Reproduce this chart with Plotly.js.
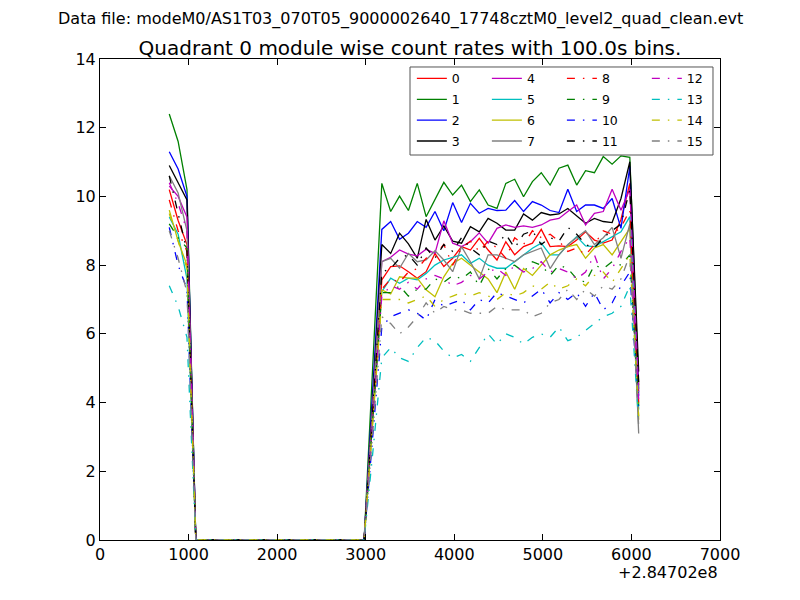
<!DOCTYPE html>
<html>
<head>
<meta charset="utf-8">
<script src="https://cdn.plot.ly/plotly-3.0.1.min.js"></script>
<style>html,body{margin:0;padding:0;background:#fff}#chart{width:800px;height:600px}</style>
</head>
<body>
<div id="chart"></div>
<script>
// time offsets (s) relative to 2.84702e8, 100 s bins
var times = [782, 882, 982, 1082, 1182, 1282, 1382, 1482, 1582, 1682, 1782, 1882, 1982, 2082, 2182, 2282, 2382, 2482, 2582, 2682, 2782, 2882, 2982,
  3082, 3182, 3282, 3382, 3482, 3582, 3682, 3782, 3882, 3982, 4082, 4182, 4282, 4382, 4482, 4582, 4682, 4782, 4882, 4982, 5082, 5182, 5282, 5382,
  5482, 5582, 5682, 5782, 5882, 5982, 6082];
var gap = [0, 0, 0, 0, 0, 0, 0, 0, 0, 0, 0, 0, 0, 0, 0, 0, 0, 0, 0, 0];

var m0  = [10.2, 9.3, 8.6].concat(gap, [3.8, 7.57, 7.96, 7.98, 7.81, 7.62, 7.81, 8.34, 7.96, 8.2, 8.54, 8.44, 8.78, 8.44, 8.15, 8.68, 8.3, 8.54, 8.64, 9.04, 8.54, 8.56, 8.54, 8.73, 8.97, 8.73, 8.64, 8.73, 9.33, 10.38, 4.5]);
var m1  = [12.4, 11.6, 10.2].concat(gap, [5.2, 10.38, 9.56, 10.01, 9.59, 10.38, 9.41, 9.9, 10.41, 10.04, 10.33, 9.85, 10.19, 9.75, 9.65, 10.38, 10.5, 9.99, 10.43, 10.69, 10.33, 10.82, 10.91, 10.33, 10.75, 10.69, 11.16, 10.94, 11.18, 11.14, 4.4]);
var m2  = [11.3, 10.8, 10.0].concat(gap, [4.5, 9.04, 9.27, 8.75, 8.93, 9.27, 9.1, 9.56, 9.0, 9.82, 9.24, 9.8, 9.51, 9.65, 9.59, 9.6, 9.88, 9.56, 9.85, 9.75, 9.59, 9.53, 10.21, 9.56, 9.75, 9.75, 9.65, 9.94, 9.07, 10.87, 4.2]);
var m3  = [10.9, 10.4, 9.9].concat(gap, [4.2, 8.6, 8.34, 8.93, 8.62, 8.2, 9.33, 8.73, 9.14, 8.7, 8.64, 9.12, 8.97, 9.36, 9.22, 9.02, 9.02, 9.49, 9.31, 9.53, 9.46, 9.49, 9.65, 9.43, 9.22, 9.36, 9.27, 9.24, 9.94, 11.01, 4.9]);
var m4  = [10.3, 10.0, 9.4].concat(gap, [4.0, 8.1, 8.23, 8.44, 8.32, 8.27, 8.46, 8.34, 9.29, 8.64, 8.54, 8.68, 8.94, 8.64, 9.07, 9.17, 9.1, 9.14, 9.1, 9.17, 9.31, 9.36, 9.56, 9.75, 9.17, 9.51, 9.56, 10.21, 9.6, 10.21, 4.3]);
var m5  = [9.4, 8.9, 7.6].concat(gap, [3.6, 7.23, 7.62, 7.47, 7.62, 7.57, 7.76, 8.0, 8.15, 8.23, 8.3, 8.05, 8.2, 8.0, 7.91, 7.91, 8.1, 8.3, 8.49, 8.64, 8.3, 8.3, 8.59, 8.83, 8.56, 8.54, 8.68, 8.83, 8.97, 9.41, 3.8]);
var m6  = [9.6, 8.7, 8.0].concat(gap, [3.6, 7.28, 7.16, 7.66, 7.62, 7.62, 7.28, 7.08, 7.66, 8.05, 8.2, 8.0, 7.8, 7.6, 7.2, 7.8, 7.3, 7.9, 7.7, 8.0, 8.3, 8.44, 8.54, 8.6, 8.2, 8.5, 8.6, 8.3, 8.7, 9.07, 3.5]);
var m7  = [10.6, 10.1, 9.0].concat(gap, [4.0, 8.1, 8.2, 7.91, 8.34, 8.1, 8.15, 8.42, 8.15, 7.81, 8.54, 8.1, 7.6, 8.3, 8.3, 8.2, 8.1, 8.3, 8.4, 8.5, 7.9, 8.3, 8.6, 8.8, 9.0, 8.6, 8.8, 9.1, 8.2, 9.2, 3.1]);
var m8  = [9.9, 9.0, 8.4].concat(gap, [3.7, 7.3, 7.6, 7.5, 7.8, 7.9, 8.2, 8.3, 8.6, 8.0, 8.5, 8.7, 8.4, 8.7, 8.5, 8.2, 8.8, 8.6, 9.0, 8.8, 8.9, 8.7, 8.4, 8.5, 8.3, 8.6, 9.0, 8.9, 9.1, 9.6, 4.0]);
var m9  = [9.2, 8.8, 8.5].concat(gap, [3.6, 7.2, 7.2, 7.4, 7.1, 7.3, 7.3, 7.6, 7.5, 7.7, 7.6, 7.8, 7.4, 7.9, 7.6, 7.9, 8.0, 7.8, 8.1, 8.0, 7.7, 8.0, 7.9, 7.6, 7.5, 8.0, 7.9, 8.1, 8.0, 8.3, 3.9]);
var m10 = [9.1, 8.0, 7.3].concat(gap, [3.1, 6.2, 6.5, 6.6, 6.7, 6.6, 6.4, 7.0, 6.8, 6.9, 7.0, 6.7, 7.0, 6.9, 7.2, 7.1, 7.0, 6.9, 7.1, 7.3, 6.9, 7.2, 7.0, 7.2, 6.8, 7.2, 6.7, 6.9, 7.4, 7.8, 3.7]);
var m11 = [10.6, 9.5, 8.4].concat(gap, [3.9, 7.8, 7.9, 8.2, 8.3, 8.0, 8.5, 8.2, 8.6, 8.4, 8.8, 8.5, 8.3, 8.7, 8.6, 8.9, 8.5, 8.9, 9.0, 8.6, 8.8, 8.7, 9.1, 8.9, 8.6, 8.5, 8.8, 9.0, 9.2, 10.2, 4.6]);
var m12 = [10.4, 9.8, 9.0].concat(gap, [3.6, 7.1, 7.4, 7.3, 7.5, 7.3, 7.6, 7.7, 7.6, 7.4, 7.5, 7.7, 7.6, 7.8, 7.9, 7.7, 8.0, 7.8, 7.9, 8.1, 7.8, 7.9, 7.8, 7.6, 7.8, 8.3, 7.6, 7.9, 8.4, 8.8, 4.1]);
var m13 = [7.4, 6.8, 5.9].concat(gap, [2.6, 5.3, 5.6, 5.3, 5.2, 5.6, 5.9, 5.8, 5.5, 5.3, 5.4, 5.2, 5.6, 6.0, 5.7, 6.0, 5.9, 5.7, 5.9, 6.0, 5.9, 6.2, 5.8, 5.9, 6.1, 6.3, 6.5, 6.6, 6.8, 7.4, 3.4]);
var m14 = [9.5, 8.7, 7.9].concat(gap, [3.5, 7.0, 7.0, 7.0, 6.9, 7.0, 7.1, 6.8, 7.0, 7.1, 7.2, 7.1, 7.2, 7.1, 7.0, 7.2, 7.1, 7.2, 7.4, 7.3, 7.5, 7.3, 7.4, 7.6, 7.4, 7.7, 7.8, 7.5, 7.9, 8.3, 3.6]);
var m15 = [9.0, 8.2, 7.2].concat(gap, [3.2, 6.5, 6.3, 6.0, 6.2, 6.5, 6.9, 6.6, 6.8, 6.7, 6.7, 6.6, 6.6, 6.6, 6.8, 6.7, 6.7, 6.7, 6.5, 6.6, 6.9, 7.0, 7.3, 7.0, 7.3, 7.1, 7.4, 7.3, 7.6, 8.3, 3.3]);

var series = [m0, m1, m2, m3, m4, m5, m6, m7, m8, m9, m10, m11, m12, m13, m14, m15];
var names = ["0", "1", "2", "3", "4", "5", "6", "7", "8", "9", "10", "11", "12", "13", "14", "15"];
var colors = ["#ff0000", "#008000", "#0000ff", "#000000", "#bf00bf", "#00bfbf", "#bfbf00", "#808080"];
var offsetLabel = "+2.84702e8";
var fileLabel = "Data file: modeM0/AS1T03_070T05_9000002640_17748cztM0_level2_quad_clean.evt";
var titleText = "Quadrant 0 module wise count rates with 100.0s bins.";

var legendIds = ["legend", "legend2", "legend3", "legend4"];
var traces = series.map(function (ys, i) {
  return {
    type: "scatter", mode: "lines", x: times, y: ys, name: names[i],
    legend: legendIds[Math.floor(i / 4)], legendgroup: "g" + i,
    line: {color: colors[i % 8], width: 1.3, dash: i < 8 ? "solid" : "8px,8px,1.5px,8px"}
  };
});

var font = {family: "DejaVu Sans", size: 16, color: "#000"};
function leg(xp) {
  return {x: xp, xanchor: "left", y: 0.99, yanchor: "top", bgcolor: "rgba(0,0,0,0)", traceorder: "grouped", tracegroupgap: 1.6,
    borderwidth: 0, font: {family: "DejaVu Sans", size: 12.5, color: "#000"}, itemclick: false, itemdoubleclick: false};
}

var layout = {
  width: 800, height: 600,
  margin: {l: 100, r: 80, t: 59, b: 60},
  paper_bgcolor: "#fff", plot_bgcolor: "#fff",
  font: font,
  showlegend: true,
  title: {text: titleText, font: {family: "DejaVu Sans", size: 20, color: "#000"}, x: 0.5, xref: "paper", xanchor: "center", y: 1 - 48 / 600, yref: "container", yanchor: "middle"},
  xaxis: {range: [0, 7000], tickvals: [0, 1000, 2000, 3000, 4000, 5000, 6000, 7000], ticks: "inside", ticklen: 6, tickcolor: "#000",
    showline: true, linecolor: "#000", linewidth: 1, mirror: "ticks", showgrid: false, zeroline: false, tickfont: font},
  yaxis: {range: [0, 14], tickvals: [0, 2, 4, 6, 8, 10, 12, 14], ticks: "inside", ticklen: 6, tickcolor: "#000",
    showline: true, linecolor: "#000", linewidth: 1, mirror: "ticks", showgrid: false, zeroline: false, tickfont: font},
  legend: leg(0.503), legend2: leg(0.624), legend3: leg(0.745), legend4: leg(0.882),
  shapes: [{type: "rect", xref: "paper", yref: "paper", x0: 0.5, x1: 0.9887, y0: 0.8004, y1: 0.9834,
    line: {color: "#555", width: 1}, fillcolor: "#fff", layer: "above"}],
  annotations: [
    {text: fileLabel, xref: "paper", yref: "paper", x: (400 - 100) / 620, y: (540 - 19) / 481, xanchor: "center", yanchor: "middle", showarrow: false,
      font: {family: "DejaVu Sans", size: 16, color: "#000"}},
    {text: offsetLabel, xref: "paper", yref: "paper", x: 1, y: (540 - 572) / 481, xanchor: "right", yanchor: "middle", showarrow: false, font: font}
  ]
};

Plotly.newPlot("chart", traces, layout, {staticPlot: true, displayModeBar: false});
</script>
</body>
</html>
